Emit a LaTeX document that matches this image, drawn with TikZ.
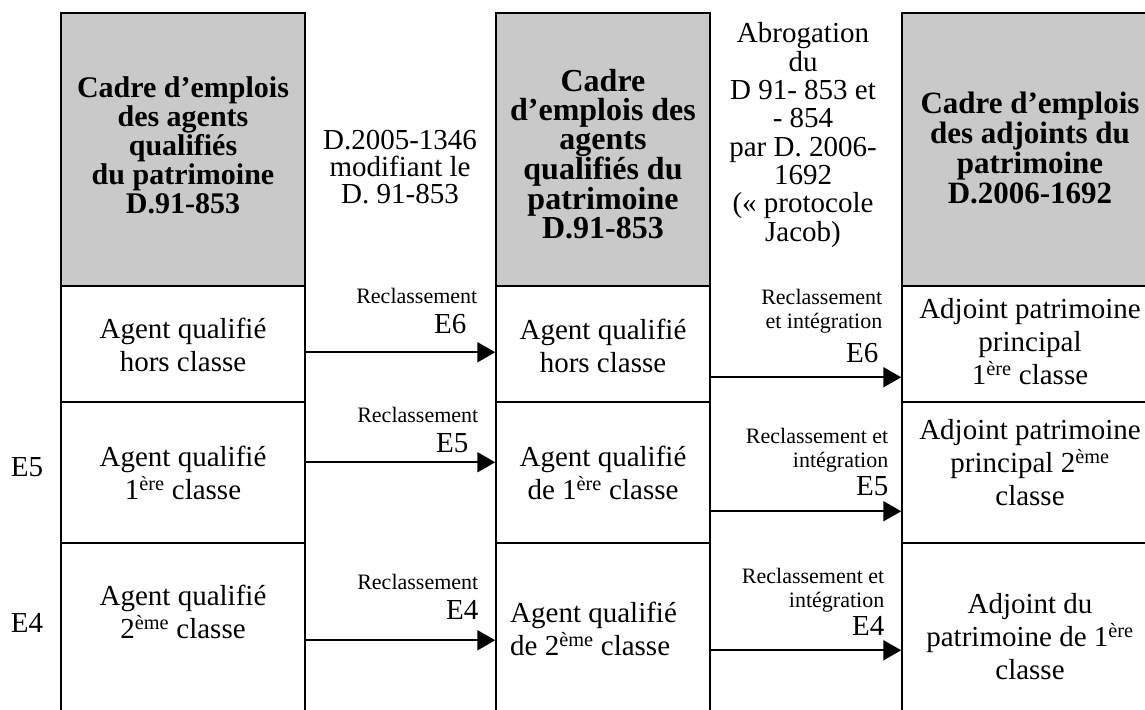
\documentclass[tikz,border=0pt]{standalone}
\usepackage{fontspec}
\setmainfont{Liberation Serif}
\usetikzlibrary{arrows.meta,calc}

\begin{document}
\begin{tikzpicture}[x=1pt,y=-1pt]
	\tikzstyle{entete}=[draw,line width=1.5pt,fill=gray!42,minimum height=273pt,inner sep=0pt]
	\tikzstyle{cellule}=[draw,line width=1.5pt,inner sep=0pt]
	\tikzstyle{texte}=[align=center,inner sep=0pt,font=\fontsize{29}{33}\selectfont]
	\tikzstyle{decret}=[align=center,inner sep=0pt,font=\fontsize{29}{27}\selectfont]
	\tikzstyle{etiq}=[align=right,inner sep=0pt,font=\fontsize{22}{24}\selectfont]
	\tikzstyle{fleche}=[line width=2pt,-{Triangle[length=18pt,width=20pt]}]

	\useasboundingbox (0,0) rectangle (1145,709);

	% colonnes : nom / centre / largeur
	\foreach \c/\x/\w in {a/183/244,b/603/214,c/1030/256} {
		\node[entete,minimum width=\w*1pt] (\c0) at (\x,149.5) {};
		\node[cellule,minimum width=\w*1pt,minimum height=116pt] (\c1) at (\x,344) {};
		\node[cellule,minimum width=\w*1pt,minimum height=141pt] (\c2) at (\x,472.5) {};
		\node[cellule,minimum width=\w*1pt,minimum height=202pt] (\c3) at (\x,644) {};
	}

	% titres
	\node[texte,font=\fontsize{30}{29}\selectfont\bfseries] (ta0) at (183,145) {Cadre d’emplois\\des agents\\qualifiés\\du patrimoine\\D.91-853};
	\node[texte,font=\fontsize{32}{29}\selectfont\bfseries] (tb0) at (603,154) {Cadre\\d’emplois des\\agents\\qualifiés du\\patrimoine\\D.91-853};
	\node[texte,font=\fontsize{31}{30}\selectfont\bfseries] (tc0) at (1030,148) {Cadre d’emplois\\des adjoints du\\patrimoine\\D.2006-1692};

	% decrets
	\node[decret] (d1) at (400,167) {D.2005-1346\\modifiant le\\D. 91-853};
	\node[decret,font=\fontsize{29}{28.3}\selectfont] (d2) at (803,135) {Abrogation\\du\\D 91- 853 et\\- 854\\par D. 2006-\\1692\\(« protocole\\Jacob)};

	% grades
	\node[texte] (ta1) at (183,345) {Agent qualifié\\hors classe};
	\node[texte] (ta2) at (183,473) {Agent qualifié\\1\textsuperscript{ère} classe};
	\node[texte] (ta3) at (183,612) {Agent qualifié\\2\textsuperscript{ème} classe};
	\node[texte] (tb1) at (603,346) {Agent qualifié\\hors classe};
	\node[texte] (tb2) at (603,473) {Agent qualifié\\de 1\textsuperscript{ère} classe};
	\node[texte,align=left,anchor=west] (tb3) at (510,629) {Agent qualifié\\de 2\textsuperscript{ème} classe};
	\node[texte] (tc1) at (1030,342) {Adjoint patrimoine\\principal\\1\textsuperscript{ère} classe};
	\node[texte] (tc2) at (1030,463) {Adjoint patrimoine\\principal 2\textsuperscript{ème}\\classe};
	\node[texte] (tc3) at (1030,637) {Adjoint du\\patrimoine de 1\textsuperscript{ère}\\classe};

	\node[texte] (e5) at (27,467) {E5};
	\node[texte] (e4) at (27,623) {E4};

	% reclassements
	\draw[fleche] ($(a1.north east)+(0,67)$) -- ($(b1.north west)+(0,67)$)
		node[etiq,pos=1,anchor=south east,xshift=-17pt,yshift=17pt] (r1) {Reclassement\\[6pt]{\fontsize{29}{30}\selectfont E6}\hspace*{11pt}};
	\draw[fleche] ($(a2.north east)+(0,61)$) -- ($(b2.north west)+(0,61)$)
		node[etiq,pos=1,anchor=south east,xshift=-16pt,yshift=8.5pt] (r2) {Reclassement\\[6pt]{\fontsize{29}{30}\selectfont E5}\hspace*{10pt}};
	\draw[fleche] ($(a3.north east)+(0,98)$) -- ($(b3.north west)+(0,98)$)
		node[etiq,pos=1,anchor=south east,xshift=-16pt,yshift=19.5pt] (r3) {Reclassement\\[6pt]{\fontsize{29}{30}\selectfont E4}};

	\draw[fleche] ($(b1.north east)+(0,92)$) -- ($(c1.north west)+(0,92)$)
		node[etiq,pos=1,anchor=south east,xshift=-18pt,yshift=13.5pt] (s1) {Reclassement\\et intégration\hspace*{22pt}\\[10pt]{\fontsize{29}{30}\selectfont E6}\hspace*{4pt}};
	\draw[fleche] ($(b2.north east)+(0,110)$) -- ($(c2.north west)+(0,110)$)
		node[etiq,pos=1,anchor=south east,xshift=-12pt,yshift=14.5pt] (s2) {Reclassement et\\intégration\hspace*{1pt}\\[4pt]{\fontsize{29}{30}\selectfont E5}};
	\draw[fleche] ($(b3.north east)+(0,108)$) -- ($(c3.north west)+(0,108)$)
		node[etiq,pos=1,anchor=south east,xshift=-16pt,yshift=13.5pt] (s3) {Reclassement et\\intégration\\[4pt]{\fontsize{29}{30}\selectfont E4}};
\end{tikzpicture}
\end{document}
